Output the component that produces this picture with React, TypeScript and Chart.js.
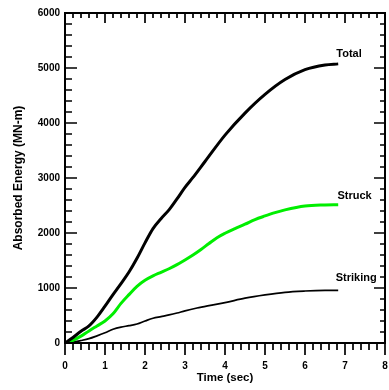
import { useEffect, useRef } from 'react';
import { Chart, registerables } from 'chart.js';

Chart.register(...registerables);

// ---- data (Time in sec, Absorbed Energy in MN-m) ----
const totalTime = [0, 0.2, 0.4, 0.6, 0.8, 1.0, 1.2, 1.4, 1.6, 1.8, 2.0, 2.2, 2.4, 2.6, 2.8, 3.0, 3.2, 3.5, 4.0, 4.5, 5.0, 5.5, 6.0, 6.5, 6.83];
const totalEnergy = [0, 100, 215, 310, 470, 670, 880, 1080, 1290, 1540, 1820, 2080, 2260, 2420, 2620, 2830, 3010, 3300, 3780, 4180, 4520, 4790, 4970, 5055, 5075];

const struckTime = [0, 0.2, 0.4, 0.6, 0.8, 1.0, 1.2, 1.4, 1.6, 1.8, 2.0, 2.2, 2.4, 2.6, 2.8, 3.0, 3.2, 3.4, 3.6, 3.8, 4.0, 4.25, 4.5, 4.75, 5.0, 5.25, 5.5, 6.0, 6.5, 6.83];
const struckEnergy = [0, 50, 125, 220, 310, 400, 530, 720, 880, 1030, 1140, 1220, 1285, 1350, 1425, 1510, 1600, 1700, 1810, 1915, 1995, 2080, 2160, 2245, 2310, 2370, 2420, 2490, 2510, 2515];

const strikingTime = [0, 0.2, 0.4, 0.6, 0.8, 1.0, 1.2, 1.4, 1.6, 1.8, 2.0, 2.2, 2.4, 2.6, 2.8, 3.0, 3.3, 3.6, 4.0, 4.5, 5.0, 5.5, 6.0, 6.5, 6.83];
const strikingEnergy = [0, 15, 45, 80, 130, 185, 250, 290, 315, 345, 400, 450, 480, 510, 545, 585, 636, 680, 735, 815, 875, 922, 945, 957, 958];

const curveLabels = ['Total', 'Struck', 'Striking'];
const curveLabelTime = [7.1, 7.24, 7.28];
const curveLabelEnergy = [5255, 2669, 1178];

const xTicks = [0, 1, 2, 3, 4, 5, 6, 7, 8];
const yTicks = [0, 1000, 2000, 3000, 4000, 5000, 6000];

const FONT = '"Liberation Sans", Arial, Helvetica, sans-serif';

const pts = (t: number[], e: number[]) => t.map((v, i) => ({ x: v, y: e[i] }));

const framePlugin = {
  id: 'frame',
  afterDraw(chart: any) {
    const { ctx, chartArea: a, scales } = chart;
    const x = scales.x;
    const y = scales.y;
    ctx.save();
    ctx.strokeStyle = '#000';
    ctx.lineWidth = 2;
    ctx.strokeRect(a.left, a.top, a.right - a.left, a.bottom - a.top);
    ctx.lineWidth = 1.7;
    ctx.beginPath();
    const xMin = xTicks[0];
    const xMax = xTicks[xTicks.length - 1];
    for (let i = 0; i <= (xMax - xMin) * 5; i++) {
      const v = xMin + i / 5;
      const px = x.getPixelForValue(v);
      const major = i % 5 === 0;
      ctx.moveTo(px, a.bottom);
      ctx.lineTo(px, a.bottom + (major ? 12 : 7));
      ctx.moveTo(px, a.top);
      ctx.lineTo(px, a.top + (major ? 10 : 5));
    }
    const yMax = yTicks[yTicks.length - 1];
    for (let i = 0; i <= yMax / 200; i++) {
      const v = i * 200;
      const py = y.getPixelForValue(v);
      const major = i % 5 === 0;
      ctx.moveTo(a.left, py);
      ctx.lineTo(a.left + (major ? 12 : 7), py);
      ctx.moveTo(a.right, py);
      ctx.lineTo(a.right - (major ? 11 : 5), py);
    }
    ctx.stroke();

    ctx.fillStyle = '#000';
    ctx.font = `bold 11px ${FONT}`;
    ctx.textAlign = 'center';
    ctx.textBaseline = 'middle';
    curveLabels.forEach((txt, i) => {
      ctx.fillText(txt, x.getPixelForValue(curveLabelTime[i]), y.getPixelForValue(curveLabelEnergy[i]));
    });
    ctx.restore();
  },
};

export default function App() {
  const ref = useRef<HTMLCanvasElement | null>(null);

  useEffect(() => {
    if (!ref.current) return;
    const chart = new Chart(ref.current, {
      type: 'line',
      data: {
        datasets: [
          {
            label: 'Total',
            data: pts(totalTime, totalEnergy),
            borderColor: '#000000',
            borderWidth: 3,
            pointRadius: 0,
            cubicInterpolationMode: 'monotone',
            fill: false,
          },
          {
            label: 'Struck',
            data: pts(struckTime, struckEnergy),
            borderColor: '#00ee00',
            borderWidth: 3,
            pointRadius: 0,
            cubicInterpolationMode: 'monotone',
            fill: false,
          },
          {
            label: 'Striking',
            data: pts(strikingTime, strikingEnergy),
            borderColor: '#000000',
            borderWidth: 1.7,
            pointRadius: 0,
            cubicInterpolationMode: 'monotone',
            fill: false,
          },
        ],
      },
      options: {
        animation: false,
        responsive: false,
        devicePixelRatio: 1,
        layout: { padding: { left: 0, top: 13, right: 4, bottom: 0 } },
        plugins: {
          legend: { display: false },
          tooltip: { enabled: false },
        },
        scales: {
          x: {
            type: 'linear',
            min: 0,
            max: 8,
            grid: { display: false, drawTicks: false, tickLength: 0 },
            border: { display: false },
            afterFit: (s: any) => {
              s.height = 47;
              s.paddingLeft = 0;
              s.paddingRight = 0;
            },
            afterBuildTicks: (s: any) => {
              s.ticks = xTicks.map((v) => ({ value: v }));
            },
            ticks: {
              padding: 17,
              color: '#000',
              font: { family: FONT, size: 10, weight: 'bold' },
              maxRotation: 0,
              callback: (v: any) => String(v),
            },
            title: {
              display: true,
              text: 'Time (sec)',
              color: '#000',
              font: { family: FONT, size: 11.5, weight: 'bold' },
              padding: { top: 0, bottom: 5 },
            },
          },
          y: {
            type: 'linear',
            min: 0,
            max: 6000,
            grid: { display: false, drawTicks: false, tickLength: 0 },
            border: { display: false },
            afterFit: (s: any) => {
              s.width = 65;
              s.paddingTop = 0;
              s.paddingBottom = 0;
            },
            afterBuildTicks: (s: any) => {
              s.ticks = yTicks.map((v) => ({ value: v }));
            },
            ticks: {
              padding: 5,
              color: '#000',
              font: { family: FONT, size: 10, weight: 'bold' },
              callback: (v: any) => String(v),
            },
            title: {
              display: true,
              text: 'Absorbed Energy (MN-m)',
              color: '#000',
              font: { family: FONT, size: 12, weight: 'bold' },
              padding: { top: 11, bottom: 0 },
            },
          },
        },
      },
      plugins: [framePlugin],
    } as any);
    return () => chart.destroy();
  }, []);

  return (
    <div style={{ position: 'absolute', left: 0, top: 0, width: 389, height: 390, background: '#fff' }}>
      <canvas ref={ref} width={389} height={390} style={{ display: 'block', width: 389, height: 390 }} />
    </div>
  );
}
